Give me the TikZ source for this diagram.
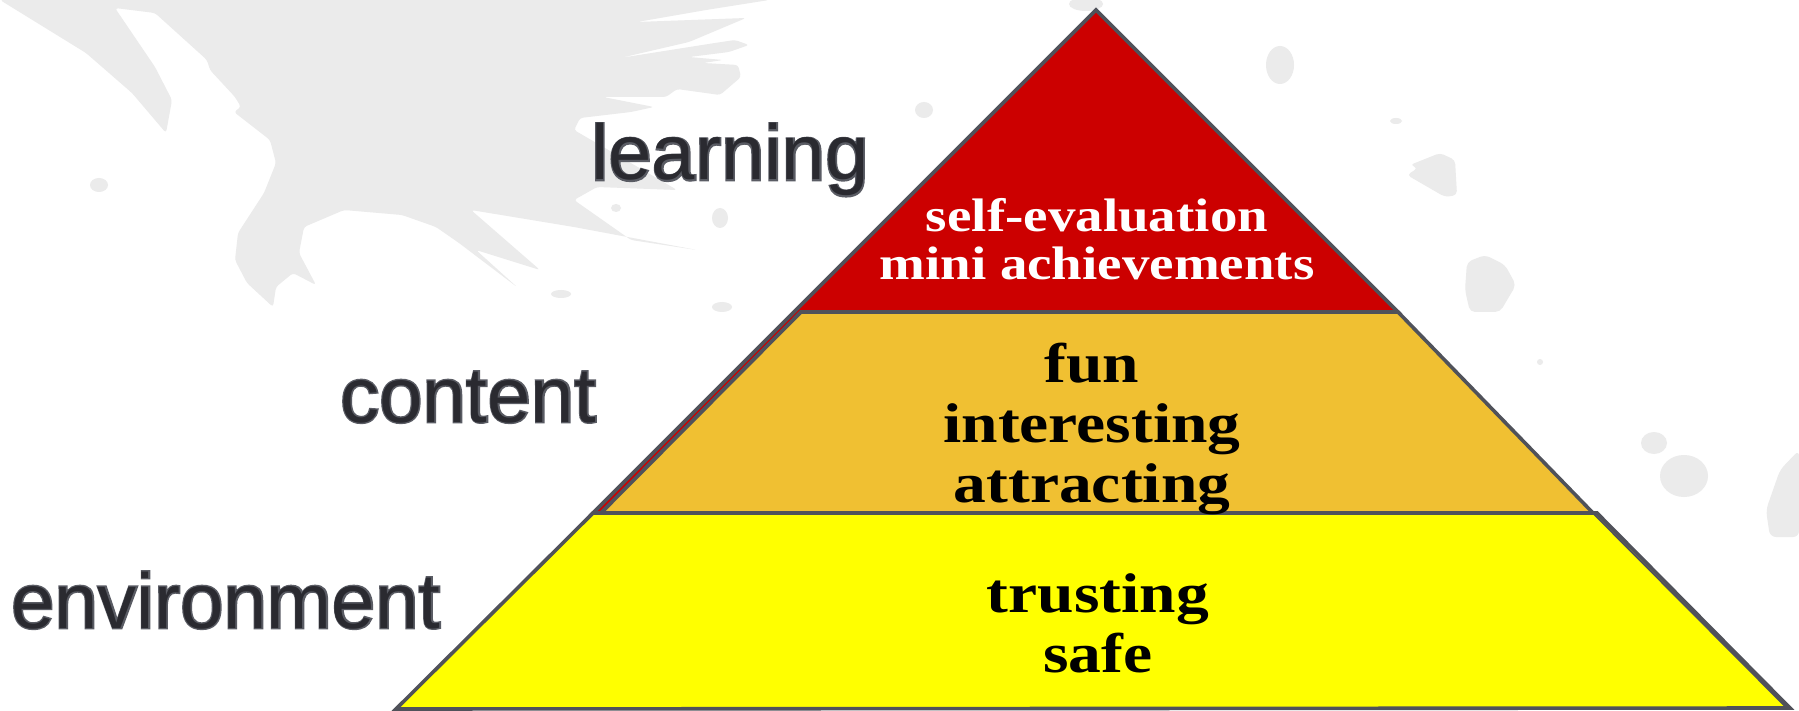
\documentclass[tikz,border=0pt]{standalone}
\usepackage{fontspec}
\setmainfont{Liberation Serif}
\newfontfamily\labelfont{Liberation Sans}
\newfontfamily\labelring{Liberation Sans}[FakeBold=3.5]
\newfontfamily\layerfont{Liberation Serif}[FakeStretch=1.17]
\definecolor{edgegray}{HTML}{50525A}
\definecolor{topred}{HTML}{CC0000}
\definecolor{midorange}{HTML}{F0C032}
\definecolor{lowyellow}{HTML}{FFFF00}
\definecolor{splash}{HTML}{EBEBEB}
\definecolor{ringgray}{HTML}{5A5C64}
\definecolor{labeldark}{HTML}{2A2A30}
\tikzset{
  tier/.style={draw=edgegray, line width=3.6pt, line join=miter},
  lbl/.style={anchor=base west, inner sep=0pt, text=labeldark, font=\labelfont\fontsize{78}{80}\selectfont},
  lblring/.style={anchor=base west, inner sep=0pt, text=ringgray, font=\labelring\fontsize{78}{80}\selectfont},
  tiertext/.style={anchor=base, inner sep=0pt, font=\layerfont\bfseries\fontsize{56}{58}\selectfont},
  toptext/.style={tiertext, text=white, font=\layerfont\bfseries\fontsize{47}{50}\selectfont},
  blob/.style={fill=splash, draw=none}
}
\newcommand{\ringlabel}[3]{%
  \node[lblring] at #2 {#3};
  \node[lbl] (#1) at #2 {#3};}
\begin{document}
\begin{tikzpicture}[x=1pt,y=-1pt]
\useasboundingbox (0,0) rectangle (1799,711);
\fill[white] (0,0) rectangle (1799,711);
% background splash
\fill[splash, rounded corners=3pt] (0,0) -- (86,53) -- (132,93) -- (166,133) -- (172,100) -- (155,67) -- (115,8)
 -- (155,13) -- (207,60) -- (210,70) -- (235,97) -- (241,107) -- (234,112) -- (270,140) -- (276,163)
 -- (264,193) -- (238,233) -- (235,260) -- (247,283) -- (273,307) -- (276,287) -- (293,273) -- (316,285)
 -- (299,253) -- (304,227) -- (344,210) -- (402,215) -- (436,227) -- (459,243) -- (517,287) -- (476,250)
 -- (540,270) -- (471,210) -- (574,227) -- (697,250) -- (631,240) -- (574,200) -- (597,187) -- (677,190)
 -- (660,180) -- (574,130) -- (580,118) -- (631,112) -- (654,107) -- (603,97) -- (666,97) -- (677,89)
 -- (720,95) -- (741,77) -- (738,65) -- (703,63) -- (723,60) -- (689,57) -- (729,52) -- (749,45)
 -- (735,40) -- (715,43) -- (620,58) -- (689,42) -- (746,18) -- (637,22) -- (706,10) -- (769,0) -- cycle;
\fill[blob] (1086,4) ellipse (17 and 7);
\fill[blob] (1280,65) ellipse (14 and 19);
\fill[blob] (1396,121) ellipse (6 and 3);
\fill[blob, rounded corners=4pt] (1410,165) -- (1440,153) -- (1455,160) -- (1457,195) -- (1445,197) -- (1407,175) -- (1418,168) -- cycle;
\fill[blob, rounded corners=5pt] (1467,262) -- (1485,255) -- (1505,265) -- (1516,285) -- (1500,312) -- (1470,312) -- (1465,290) -- cycle;
\fill[blob] (99,185) ellipse (9 and 7);
\fill[blob] (616,208) ellipse (5 and 4);
\fill[blob] (720,218) ellipse (8 and 10);
\fill[blob] (561,294) ellipse (10 and 4);
\fill[blob] (722,307) ellipse (10 and 5);
\fill[blob] (924,110) ellipse (9 and 8);
\fill[blob] (1654,443) ellipse (13 and 11);
\fill[blob] (1684,476) ellipse (24 and 21);
\fill[blob, rounded corners=6pt] (1799,450) -- (1780,470) -- (1766,510) -- (1770,537) -- (1799,537) -- cycle;
\fill[blob] (1540,362) ellipse (3 and 3);
% pyramid
\coordinate (apex) at (1096,10);
\coordinate (bl) at (396,709);
\coordinate (br) at (1790,708);
\coordinate (l1) at (795,312);
\coordinate (l1i) at (801,312);
\coordinate (r1) at (1398,312);
\coordinate (l2) at (593,513);
\coordinate (l2i) at (601,513);
\coordinate (r2) at (1593,513);
\coordinate (r2y) at (1597,513);
\coordinate (bre) at (1787,708);
\filldraw[tier, fill=topred] (apex) -- (r1) -- (l1i) -- (l2i) -- (l2) -- cycle;
\filldraw[tier, fill=midorange] (l1i) -- (r1) -- (r2) -- (l2i) -- cycle;
\filldraw[tier, fill=lowyellow] (l2) -- (r2y) -- (br) -- (bl) -- cycle;
\draw[tier, line width=2pt] (r2) -- (bre);
% tier texts
\node[toptext] (selfeval) at (1097,232) {self-evaluation};
\node[toptext] (mini) at (1097,280) {mini achievements};
\node[tiertext] (fun) at (1092,382) {fun};
\node[tiertext] (interesting) at (1092,442) {interesting};
\node[tiertext] (attracting) at (1092,502) {attracting};
\node[tiertext] (trusting) at (1098,612) {trusting};
\node[tiertext] (safe) at (1098,672) {safe};
% side labels
\ringlabel{learning}{(591,180)}{learning}
\ringlabel{content}{(340,422)}{content}
\ringlabel{environment}{(11,628)}{environment}
\end{tikzpicture}
\end{document}
